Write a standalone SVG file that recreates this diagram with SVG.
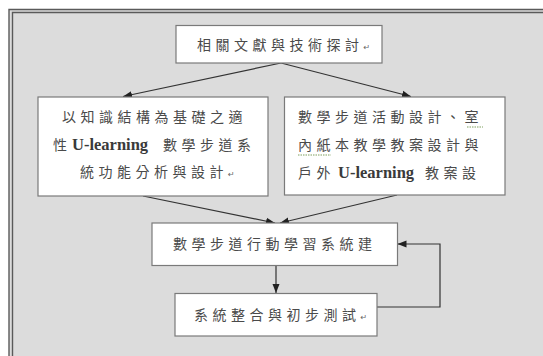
<svg xmlns="http://www.w3.org/2000/svg" width="543" height="356" viewBox="0 0 543 356">
  <style>
    .box { fill: #ffffff; stroke: #7a7a7a; stroke-width: 1.2; }
    .cjk { font-family: "Noto Sans CJK TC", "Noto Sans CJK SC", sans-serif; font-size: 14px; letter-spacing: 4.5px; fill: #4a4a4a; }
    .lat { font-family: "Liberation Serif", "Times New Roman", serif; font-size: 16.5px; font-weight: bold; letter-spacing: 0; fill: #3a3a3a; }
    .mark { font-family: "DejaVu Sans", sans-serif; font-size: 8px; letter-spacing: 0; fill: #666; }
    .conn { fill: none; stroke: #333; stroke-width: 1.2; }
    .frame { fill: none; stroke: #5a5a5a; stroke-width: 1.4; }
    .squiggle { stroke: #7f9f5f; stroke-width: 1; stroke-dasharray: 1.5 1; }
  </style>
  <defs>
    <marker id="arrow" markerUnits="userSpaceOnUse" markerWidth="10" markerHeight="8" refX="9" refY="4" orient="auto">
      <path d="M0,0.5 L9,4 L0,7.5 Z" fill="#222"/>
    </marker>
  </defs>

  <!-- page background and double frame -->
  <rect x="0" y="0" width="543" height="356" fill="#ffffff"/>
  <rect x="9" y="9.5" width="540" height="350" fill="#dcdcdc"/>
  <path class="frame" d="M9,356 V9.5 H543"/>
  <path class="frame" d="M12.5,356 V12.5 H543"/>

  <!-- connectors -->
  <g id="connectors">
    <line class="conn" x1="281" y1="63" x2="123" y2="96.5" marker-end="url(#arrow)"/>
    <line class="conn" x1="281" y1="63" x2="411" y2="96.5" marker-end="url(#arrow)"/>
    <line class="conn" x1="143" y1="196" x2="275" y2="223" marker-end="url(#arrow)"/>
    <line class="conn" x1="397" y1="195" x2="280" y2="223" marker-end="url(#arrow)"/>
    <line class="conn" x1="276" y1="265" x2="276" y2="293" marker-end="url(#arrow)"/>
    <polyline class="conn" points="377,307 440,307 440,244 397.5,244" marker-end="url(#arrow)"/>
  </g>

  <!-- literature review -->
  <g id="review">
    <rect class="box" x="176" y="25.5" width="206" height="37.5"/>
    <text class="cjk" x="197" y="50">相關文獻與技術探討<tspan class="mark">↵</tspan></text>
  </g>

  <!-- left analysis box -->
  <g id="analysis">
    <rect class="box" x="38" y="97" width="230" height="99"/>
    <text class="cjk" x="62" y="122">以知識結構為基礎之適</text>
    <text class="cjk" y="150"><tspan x="53">性</tspan><tspan class="lat" x="72">U-learning</tspan><tspan x="163">數學步道系</tspan></text>
    <text class="cjk" x="80" y="177">統功能分析與設計<tspan class="mark">↵</tspan></text>
  </g>

  <!-- right activity design box -->
  <g id="activity">
    <rect class="box" x="284.5" y="97" width="220.5" height="98"/>
    <text class="cjk" x="298" y="122">數學步道活動設計、室</text>
    <text class="cjk" x="298" y="150">內紙本教學教案設計與</text>
    <text class="cjk" y="178"><tspan x="298">戶外</tspan><tspan class="lat" x="338">U-learning</tspan><tspan x="425">教案設</tspan></text>
    <line class="squiggle" x1="467" y1="127" x2="483" y2="127"/>
    <line class="squiggle" x1="298" y1="155" x2="331" y2="155"/>
  </g>

  <!-- system construction -->
  <g id="build">
    <rect class="box" x="152" y="223" width="245.5" height="42.5"/>
    <text class="cjk" x="173" y="249">數學步道行動學習系統建</text>
  </g>

  <!-- integration and testing -->
  <g id="testing">
    <rect class="box" x="175" y="293.5" width="202" height="42.5"/>
    <text class="cjk" x="194" y="320">系統整合與初步測試<tspan class="mark">↵</tspan></text>
  </g>
</svg>
